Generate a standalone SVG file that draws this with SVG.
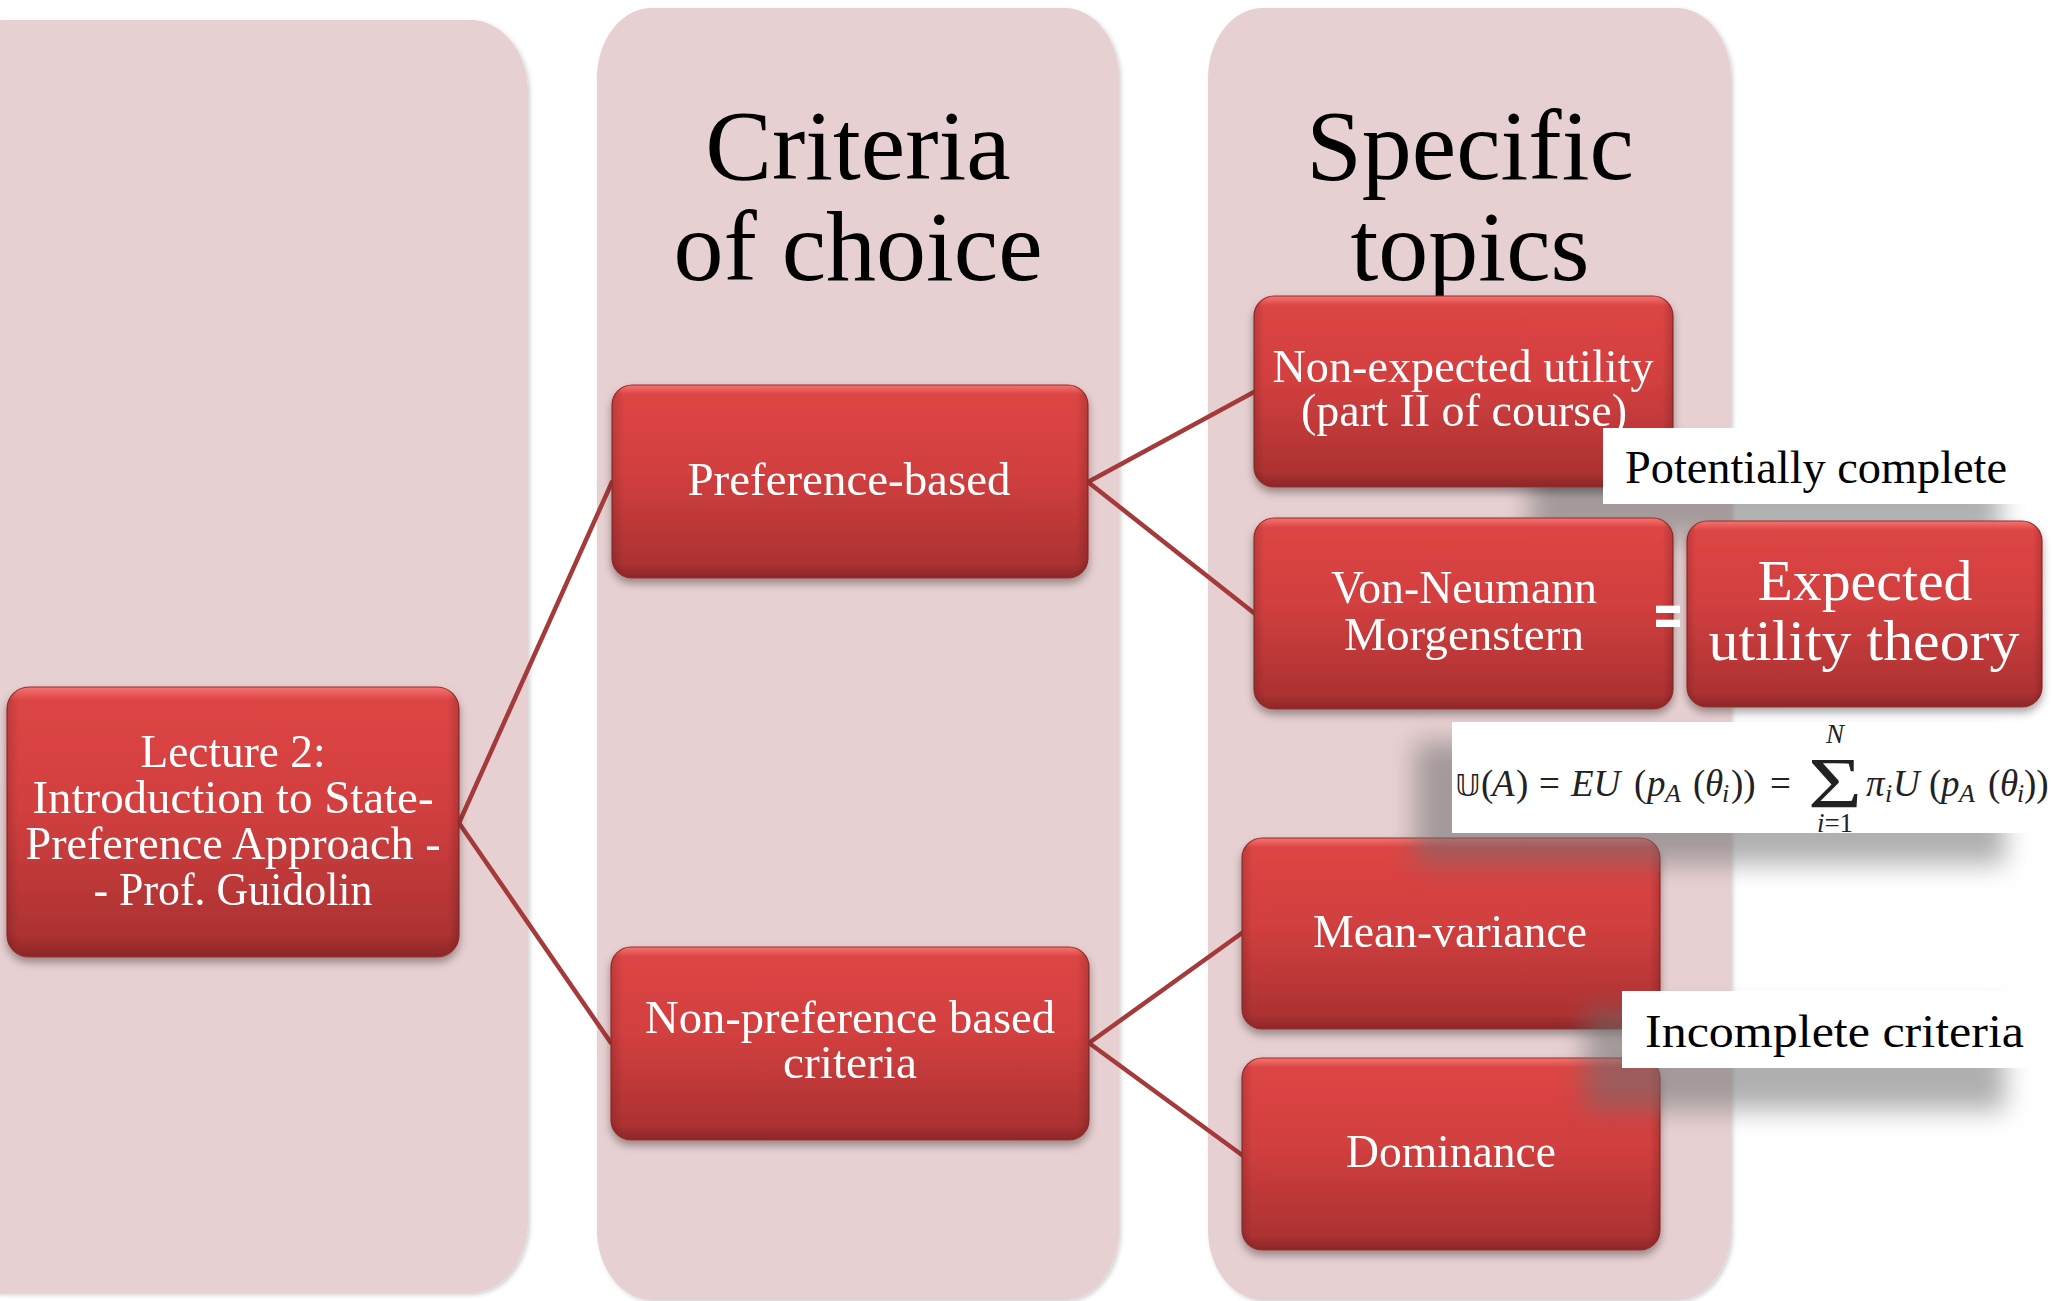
<svg xmlns="http://www.w3.org/2000/svg" width="2053" height="1301" viewBox="0 0 2053 1301">
<defs>
<style>
.panel{fill:#E7D0D1;filter:url(#panelShadow)}
.title{font-family:"Liberation Serif","DejaVu Serif",serif;font-size:100px;fill:#000;text-anchor:middle}
.node{filter:url(#nodeShadow)}
.nbody{fill:url(#nodeFill);stroke:#9A2C2C;stroke-width:1.2}
.nbevel{fill:url(#nodeBevel)}
.ntext{font-family:"Liberation Serif","DejaVu Serif",serif;font-size:46px;fill:#fff;text-anchor:middle}
.big{font-size:58px}
.conn{stroke:#A53A3A;stroke-width:4.5;fill:none;stroke-linecap:round}
.lbox{fill:#fff}
.ltext{font-family:"Liberation Serif","DejaVu Serif",serif;font-size:46px;fill:#000}
.shade{fill:#6e6e6e;opacity:.55;filter:url(#blur)}
.fm{font-family:"Liberation Serif","DejaVu Serif",serif;font-size:37px;fill:#222}
.it{font-style:italic}
.sub{font-size:26px}
.lim{font-size:27px}
.sigma{font-size:72px}
</style>
<linearGradient id="nodeFill" x1="0" y1="0" x2="0" y2="1">
<stop offset="0" stop-color="#F47472"/>
<stop offset="0.05" stop-color="#DC4544"/>
<stop offset="0.45" stop-color="#D23F3F"/>
<stop offset="0.92" stop-color="#AD3232"/>
<stop offset="1" stop-color="#8A2727"/>
</linearGradient>
<linearGradient id="nodeBevel" x1="0" y1="0" x2="1" y2="0">
<stop offset="0" stop-color="#000" stop-opacity=".14"/>
<stop offset="0.025" stop-color="#000" stop-opacity="0"/>
<stop offset="0.975" stop-color="#000" stop-opacity="0"/>
<stop offset="1" stop-color="#000" stop-opacity=".16"/>
</linearGradient>
<filter id="nodeShadow" x="-10%" y="-10%" width="120%" height="130%">
<feDropShadow dx="0" dy="5" stdDeviation="4" flood-color="#000" flood-opacity=".35"/>
</filter>
<filter id="panelShadow" x="-5%" y="-5%" width="110%" height="110%">
<feDropShadow dx="2" dy="2" stdDeviation="2" flood-color="#000" flood-opacity=".18"/>
</filter>
<filter id="blur" x="-20%" y="-40%" width="140%" height="180%">
<feGaussianBlur stdDeviation="13"/>
</filter>
</defs>
<rect width="2053" height="1301" fill="#fff"/>

<g id="columns">
<rect class="panel" x="-55" y="20" width="583" height="1273" rx="58" ry="72"/>
<rect class="panel" x="597" y="8" width="522" height="1292" rx="55" ry="70"/>
<rect class="panel" x="1208" y="8" width="523" height="1292" rx="55" ry="70"/>
<text class="title" x="858" y="179">Criteria</text>
<text class="title" x="858" y="280">of choice</text>
<text class="title" x="1470" y="179">Specific</text>
<text class="title" x="1470" y="280">topics</text>
</g>

<rect id="shadow-potential" class="shade" x="1530" y="452" width="470" height="85"/>

<g id="connectors">
<line class="conn" x1="459" y1="823" x2="612" y2="482"/>
<line class="conn" x1="459" y1="823" x2="611" y2="1043"/>
<line class="conn" x1="1088" y1="482" x2="1254" y2="392"/>
<line class="conn" x1="1088" y1="482" x2="1254" y2="613"/>
<line class="conn" x1="1089" y1="1043" x2="1242" y2="933"/>
<line class="conn" x1="1089" y1="1043" x2="1242" y2="1155"/>
</g>

<g id="node-lecture" class="node">
<rect class="nbody" x="7" y="687" width="452" height="270" rx="22"/>
<rect class="nbevel" x="7" y="687" width="452" height="270" rx="22"/>
<text class="ntext" x="233" y="767" textLength="185" lengthAdjust="spacingAndGlyphs">Lecture 2:</text>
<text class="ntext" x="233" y="813" textLength="401" lengthAdjust="spacingAndGlyphs">Introduction to State-</text>
<text class="ntext" x="233" y="859" textLength="415" lengthAdjust="spacingAndGlyphs">Preference Approach -</text>
<text class="ntext" x="233" y="905" textLength="279" lengthAdjust="spacingAndGlyphs">- Prof. Guidolin</text>
</g>

<g id="node-preference" class="node">
<rect class="nbody" x="612" y="385" width="476" height="193" rx="20"/>
<rect class="nbevel" x="612" y="385" width="476" height="193" rx="20"/>
<text class="ntext" x="849" y="495" textLength="323" lengthAdjust="spacingAndGlyphs">Preference-based</text>
</g>

<g id="node-nonpreference" class="node">
<rect class="nbody" x="611" y="947" width="478" height="193" rx="20"/>
<rect class="nbevel" x="611" y="947" width="478" height="193" rx="20"/>
<text class="ntext" x="850" y="1033" textLength="410" lengthAdjust="spacingAndGlyphs">Non-preference based</text>
<text class="ntext" x="850" y="1078" textLength="134" lengthAdjust="spacingAndGlyphs">criteria</text>
</g>

<g id="node-vonneumann" class="node">
<rect class="nbody" x="1254" y="518" width="419" height="191" rx="20"/>
<rect class="nbevel" x="1254" y="518" width="419" height="191" rx="20"/>
<text class="ntext" x="1464" y="603" textLength="266" lengthAdjust="spacingAndGlyphs">Von-Neumann</text>
<text class="ntext" x="1464" y="650" textLength="240" lengthAdjust="spacingAndGlyphs">Morgenstern</text>
</g>

<g id="node-expected" class="node">
<rect class="nbody" x="1687" y="521" width="355" height="186" rx="20"/>
<rect class="nbevel" x="1687" y="521" width="355" height="186" rx="20"/>
<text class="ntext big" x="1865" y="600" textLength="215" lengthAdjust="spacingAndGlyphs">Expected</text>
<text class="ntext big" x="1864" y="660" textLength="311" lengthAdjust="spacingAndGlyphs">utility theory</text>
</g>

<g id="equals">
<text x="1668" y="636" font-family="DejaVu Sans, sans-serif" font-weight="bold" font-size="62" fill="#fff" text-anchor="middle" textLength="32" lengthAdjust="spacingAndGlyphs">=</text>
</g>

<g id="node-nonexpected" class="node">
<rect class="nbody" x="1254" y="296" width="419" height="191" rx="20"/>
<rect class="nbevel" x="1254" y="296" width="419" height="191" rx="20"/>
<text class="ntext" x="1463" y="382" textLength="381" lengthAdjust="spacingAndGlyphs">Non-expected utility</text>
<text class="ntext" x="1464" y="426" textLength="326" lengthAdjust="spacingAndGlyphs">(part II of course)</text>
</g>

<g id="node-meanvariance" class="node">
<rect class="nbody" x="1242" y="838" width="418" height="191" rx="20"/>
<rect class="nbevel" x="1242" y="838" width="418" height="191" rx="20"/>
<text class="ntext" x="1450" y="947" textLength="274" lengthAdjust="spacingAndGlyphs">Mean-variance</text>
</g>

<g id="node-dominance" class="node">
<rect class="nbody" x="1242" y="1058" width="418" height="192" rx="20"/>
<rect class="nbevel" x="1242" y="1058" width="418" height="192" rx="20"/>
<text class="ntext" x="1451" y="1167" textLength="210" lengthAdjust="spacingAndGlyphs">Dominance</text>
</g>

<g id="label-potential">
<rect class="lbox" x="1603" y="428" width="450" height="76"/>
<text class="ltext" x="1625" y="483" textLength="382" lengthAdjust="spacingAndGlyphs">Potentially complete</text>
</g>

<g id="formula">
<rect class="shade" x="1415" y="742" width="590" height="122"/>
<rect class="lbox" x="1452" y="722" width="601" height="111"/>
<text class="fm" y="796">
<tspan x="1455" font-family="DejaVu Sans, sans-serif" font-size="31">𝕌</tspan>
<tspan x="1481">(</tspan>
<tspan x="1492" class="it">A</tspan>
<tspan x="1516">)</tspan>
<tspan x="1539">=</tspan>
<tspan x="1571" class="it">EU</tspan>
<tspan x="1634">(</tspan>
<tspan x="1647" class="it">p</tspan>
<tspan x="1665" dy="6" class="it sub">A</tspan>
<tspan x="1693" dy="-6">(</tspan>
<tspan x="1705" class="it">θ</tspan>
<tspan x="1722" dy="6" class="it sub">i</tspan>
<tspan x="1731" dy="-6">))</tspan>
<tspan x="1770">=</tspan>
<tspan x="1866" class="it">π</tspan>
<tspan x="1885" dy="6" class="it sub">i</tspan>
<tspan x="1893" dy="-6" class="it">U</tspan>
<tspan x="1929">(</tspan>
<tspan x="1941" class="it">p</tspan>
<tspan x="1959" dy="6" class="it sub">A</tspan>
<tspan x="1988" dy="-6">(</tspan>
<tspan x="2000" class="it">θ</tspan>
<tspan x="2017" dy="6" class="it sub">i</tspan>
<tspan x="2024" dy="-6">))</tspan>
</text>
<text class="fm sigma" x="1835" y="807" text-anchor="middle" textLength="54" lengthAdjust="spacingAndGlyphs">Σ</text>
<text class="fm it lim" x="1835" y="743" text-anchor="middle">N</text>
<text class="fm lim" x="1835" y="832" text-anchor="middle"><tspan class="it">i</tspan>=1</text>
</g>

<g id="label-incomplete">
<rect class="shade" x="1585" y="1010" width="420" height="100"/>
<rect class="lbox" x="1622" y="991" width="431" height="77"/>
<text class="ltext" x="1645" y="1047" textLength="379" lengthAdjust="spacingAndGlyphs">Incomplete criteria</text>
</g>
</svg>
